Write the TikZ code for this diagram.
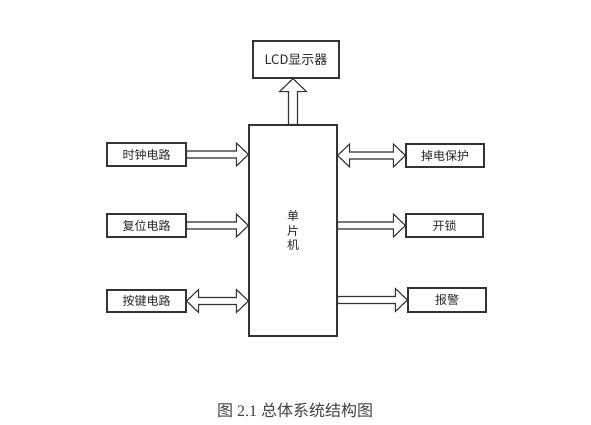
\documentclass[tikz,border=0pt]{standalone}
\usepackage{fontspec}
\setmainfont{Liberation Serif}
\newfontfamily\cjk{Noto Sans CJK SC}
\usetikzlibrary{calc}
\tikzset{
  box/.style={draw=black!80, line width=1.2pt, minimum width=78pt, minimum height=23pt, inner sep=0pt, font=\cjk\fontsize{12}{14}\selectfont, text=black!85},
  arr/.style={draw=black!80, line width=1.1pt, line join=miter}
}
% single hollow arrow: from x of #1 to x of #2, at y of #3
\newcommand\hollowR[3]{\draw[arr] let \p1=(#1), \p2=(#2), \p3=(#3) in
  (\x1,\y3+3.5pt) -- (\x2-12pt,\y3+3.5pt) -- (\x2-12pt,\y3+11.5pt) -- (\x2,\y3) --
  (\x2-12pt,\y3-11.5pt) -- (\x2-12pt,\y3-3.5pt) -- (\x1,\y3-3.5pt) -- cycle;}
% double hollow arrow
\newcommand\hollowD[3]{\draw[arr] let \p1=(#1), \p2=(#2), \p3=(#3) in
  (\x1,\y3) -- (\x1+12pt,\y3+11.5pt) -- (\x1+12pt,\y3+3.5pt) -- (\x2-12pt,\y3+3.5pt) --
  (\x2-12pt,\y3+11.5pt) -- (\x2,\y3) -- (\x2-12pt,\y3-11.5pt) -- (\x2-12pt,\y3-3.5pt) --
  (\x1+12pt,\y3-3.5pt) -- (\x1+12pt,\y3-11.5pt) -- cycle;}
\begin{document}
\begin{tikzpicture}[x=1pt,y=-1pt]
\useasboundingbox (0,0) rectangle (591,425);
\node[box, minimum width=86pt, minimum height=37pt, font=\cjk\fontsize{13}{15}\selectfont] (lcd) at (296,59.5) {LCD显示器};
\node[box, minimum width=88pt, minimum height=211pt, align=center, font=\cjk\fontsize{12}{14.5}\selectfont] (mcu) at (293,230.5) {单\\片\\机};
\node[box, minimum width=79pt] (clk) at (146.5,154.5) {时钟电路};
\node[box, minimum width=79pt] (rst) at (146.5,225.5) {复位电路};
\node[box, minimum width=79pt, minimum height=22pt] (key) at (146.5,301) {按键电路};
\node[box] (pwr) at (445,155.5) {掉电保护};
\node[box, minimum width=77pt] (lock) at (444.5,225.5) {开锁};
\node[box, minimum height=24pt] (alarm) at (447,300) {报警};
% arrows
\hollowR{clk.east}{mcu.west}{clk.east}
\hollowR{rst.east}{mcu.west}{rst.east}
\hollowD{key.east}{mcu.west}{key.east}
\hollowD{mcu.east}{pwr.west}{pwr.west}
\hollowR{mcu.east}{lock.west}{lock.west}
\hollowR{mcu.east}{alarm.west}{alarm.west}
\draw[arr] let \p1=(mcu.north), \p2=(lcd.south) in
  (\x1-4.5pt,\y1) -- (\x1-4.5pt,\y2-13pt) -- (\x1-13.5pt,\y2-13pt) -- (\x1,\y2) --
  (\x1+13.5pt,\y2-13pt) -- (\x1+4.5pt,\y2-13pt) -- (\x1+4.5pt,\y1) -- cycle;
\node[text=black!75, font=\fontsize{16}{19}\selectfont] (cap) at (295,410) {{\cjk 图} 2.1 {\cjk 总体系统结构图}};
\end{tikzpicture}
\end{document}
